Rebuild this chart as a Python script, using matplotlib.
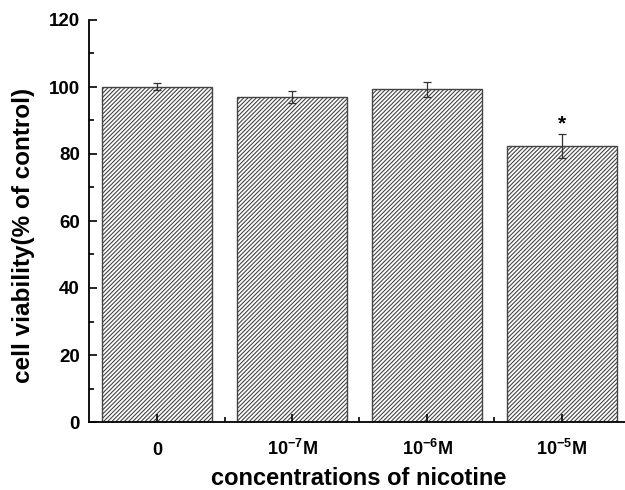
import matplotlib
matplotlib.use("Agg")
import matplotlib.pyplot as plt
from matplotlib.ticker import MultipleLocator

plt.rcParams['font.family'] = ['Liberation Sans', 'DejaVu Sans']
plt.rcParams['font.weight'] = 'bold'
plt.rcParams['mathtext.fontset'] = 'custom'
plt.rcParams['mathtext.rm'] = 'Liberation Sans:bold'
plt.rcParams['mathtext.bf'] = 'Liberation Sans:bold'
plt.rcParams['mathtext.it'] = 'Liberation Sans:bold'
plt.rcParams['hatch.linewidth'] = 0.8
plt.rcParams['hatch.color'] = '#222222'

categories = ["0", r"10$^{-7}$M", r"10$^{-6}$M", r"10$^{-5}$M"]
values = [100.1, 96.9, 99.3, 82.4]
errors = [1.1, 1.8, 2.2, 3.6]
significance = ["", "", "", "*"]

fig = plt.figure(figsize=(6.25, 4.9), dpi=100)
ax = fig.add_axes([89/625, 68/490, (625-89)/625, 402/490])

x = list(range(len(categories)))
ax.bar(x, values, width=0.81, color='white', edgecolor='#444444',
       linewidth=1.0, hatch='////////')
ax.errorbar(x, values, yerr=errors, fmt='none', ecolor='#333333',
            elinewidth=0.9, capsize=3.2, capthick=0.9)
for xi, v, e, s in zip(x, values, errors, significance):
    if s:
        ax.text(xi, v + e + 0.3, s, ha='center', va='bottom',
                fontsize=15, fontweight='bold')

ax.set_xlim(-0.504, 3.467)
ax.set_ylim(0, 120)
ax.set_xticks(x)
ax.set_xticklabels(categories)
ax.set_xticks([0.5, 1.5, 2.5], minor=True)
ax.yaxis.set_major_locator(MultipleLocator(20))
ax.yaxis.set_minor_locator(MultipleLocator(10))

for s in ['top', 'right']:
    ax.spines[s].set_visible(False)
for s in ['left', 'bottom']:
    ax.spines[s].set_linewidth(1.3)

ax.tick_params(axis='both', which='major', direction='in', length=6,
               width=1.2)
ax.tick_params(axis='both', which='minor', direction='in', length=3.5,
               width=1.2)
ax.tick_params(axis='y', which='major', pad=6.5, labelsize=13.5)
ax.tick_params(axis='x', which='major', pad=24, labelsize=13)
for lab in ax.get_xticklabels():
    lab.set_verticalalignment('baseline')

ax.set_xlabel("concentrations of nicotine", fontsize=17, fontweight='bold')
ax.xaxis.set_label_coords(0.504, -0.1567)
ax.xaxis.label.set_verticalalignment('baseline')
ax.set_ylabel("cell viability(% of control)", fontsize=17.5, fontweight='bold')
ax.yaxis.set_label_coords(-0.1213, 0.465)
ax.yaxis.label.set_verticalalignment('center')

fig.savefig("out.png", dpi=100)
